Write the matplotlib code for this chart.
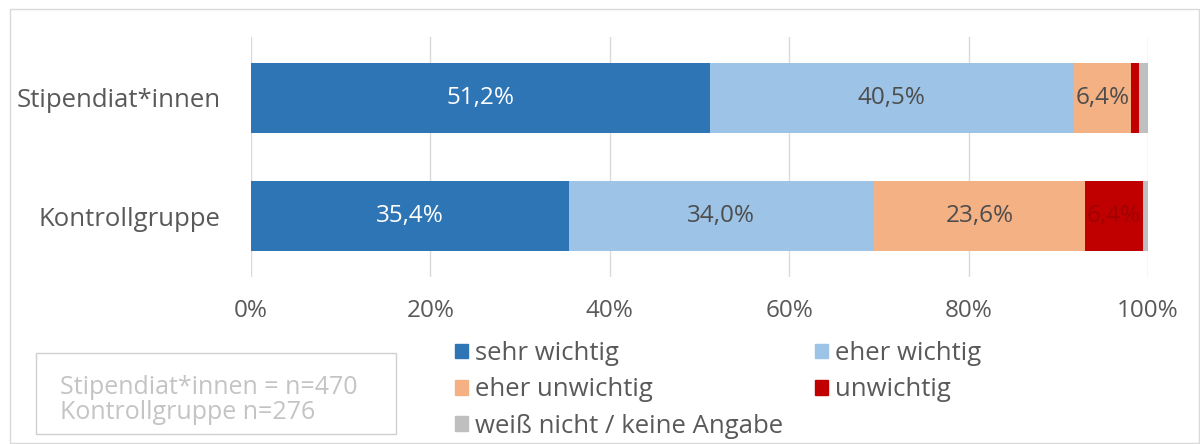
import matplotlib.pyplot as plt
from matplotlib.patches import Rectangle, Patch

# %% data
groups = ["Stipendiat*innen", "Kontrollgruppe"]
categories = ["sehr wichtig", "eher wichtig", "eher unwichtig", "unwichtig", "weiß nicht / keine Angabe"]
sehr_wichtig = [51.2, 35.4]
eher_wichtig = [40.5, 34.0]
eher_unwichtig = [6.4, 23.6]
unwichtig = [0.9, 6.4]
weiss_nicht = [1.0, 0.6]
ticks = [0, 20, 40, 60, 80, 100]
note = "Stipendiat*innen = n=470\nKontrollgruppe n=276"

series = [sehr_wichtig, eher_wichtig, eher_unwichtig, unwichtig, weiss_nicht]
colors = ["#2E75B6", "#9DC3E6", "#F4B183", "#C00000", "#BFBFBF"]
label_colors = ["white", "#4D4D4D", "#4D4D4D", "#A00000", None]

plt.rcParams["font.family"] = ["Open Sans", "DejaVu Sans"]
txt = "#595959"

fig = plt.figure(figsize=(12, 4.44), dpi=100)
ax = fig.add_axes([251 / 1200, 1 - 277 / 444, (1148 - 251) / 1200, 240 / 444])

ypos = list(range(len(groups)))
left = [0.0] * len(groups)
for vals, col, lc in zip(series, colors, label_colors):
    bars = ax.barh(ypos, vals, left=left, height=0.59, color=col, zorder=2)
    if lc is not None:
        for b, v in zip(bars, vals):
            if v >= 5:
                ax.text(b.get_x() + b.get_width() / 2, b.get_y() + b.get_height() / 2,
                        f"{v:.1f}%".replace(".", ","), ha="center", va="center",
                        color=lc, fontsize=17.5, zorder=3)
    left = [l + v for l, v in zip(left, vals)]

ax.set_xlim(0, 100)
ax.set_ylim(1.515, -0.515)
ax.set_yticks(ypos)
ax.set_yticklabels(groups, fontsize=18.5, color=txt)
ax.set_xticks(ticks)
ax.set_xticklabels([f"{t}%" for t in ticks], fontsize=17.5, color=txt)
ax.tick_params(axis="y", length=0, pad=22)
ax.tick_params(axis="x", length=0, pad=16)
ax.grid(axis="x", color="#D9D9D9", linewidth=1, zorder=0)
for s in ax.spines.values():
    s.set_visible(False)

# legend, rows: sehr/eher wichtig, eher unwichtig/unwichtig, weiß nicht
handles = [Patch(color=c) for c in colors]
order = [0, 2, 4, 1, 3]
fig.legend([handles[i] for i in order], [categories[i] for i in order],
           ncol=2, frameon=False, loc="upper left", bbox_to_anchor=(455 / 1200, 1 - 341 / 444),
           fontsize=18.5, labelcolor=txt, handlelength=0.5, handleheight=0.5,
           handletextpad=0.27, columnspacing=1.25, labelspacing=0.44, borderpad=0,
           borderaxespad=0)

# sample size note box
fig.text(60 / 1200, 1 - 400 / 444, note, fontsize=18, color="#C4C4C4", va="center",
         linespacing=1.0)
fig.patches.append(Rectangle((36 / 1200, 1 - 434 / 444), 360 / 1200, 81 / 444,
                             transform=fig.transFigure, fill=False, edgecolor="#D0D0D0", linewidth=1))
# outer frame
fig.patches.append(Rectangle((10 / 1200, 1 / 444), 1189 / 1200, 434 / 444,
                             transform=fig.transFigure, fill=False, edgecolor="#D9D9D9", linewidth=1))

plt.savefig("out.png", dpi=100)
plt.close()
